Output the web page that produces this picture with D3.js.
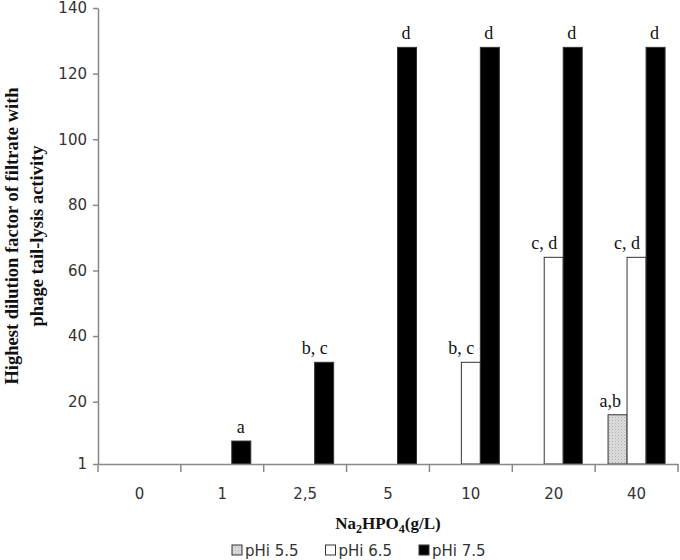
<!DOCTYPE html>
<html>
<head>
<meta charset="utf-8">
<script src="https://cdn.jsdelivr.net/npm/d3@7"></script>
<style>
  body { margin: 0; background: #fff; }
  svg { display: block; }
  .tick text { font-family: "DejaVu Sans", sans-serif; font-size: 15px; fill: #333; }
  .letter { font-family: "Liberation Serif", serif; font-size: 18px; fill: #111; }
  .title { font-family: "Liberation Serif", serif; font-weight: bold; font-size: 17px; fill: #111; }
  .ytitle { font-size: 18.5px; }
  .legend text { font-family: "DejaVu Sans", sans-serif; font-size: 15px; fill: #333; }
</style>
</head>
<body>
<svg width="680" height="560"></svg>
<script>
// categories (Na2HPO4 g/L)
var categories = ["0", "1", "2,5", "5", "10", "20", "40"];
var seriesNames = ["pHi 5.5", "pHi 6.5", "pHi 7.5"];

// values (null = no bar)
var ph55 = [null, null, null, null, null, null, 16];
var ph65 = [null, null, null, null, 32, 64, 64];
var ph75 = [null, 8, 32, 128, 128, 128, 128];

// significance letters above bars
var lab55 = ["", "", "", "", "", "", "a,b"];
var lab65 = ["", "", "", "", "b, c", "c, d", "c, d"];
var lab75 = ["", "a", "b, c", "d", "d", "d", "d"];

var yTicks = [1, 20, 40, 60, 80, 100, 120, 140];

var fills = ["url(#dots)", "#ffffff", "#000000"];

var svg = d3.select("svg");

var defs = svg.append("defs");
var pat = defs.append("pattern")
  .attr("id", "dots")
  .attr("width", 3).attr("height", 3)
  .attr("patternUnits", "userSpaceOnUse");
pat.append("rect").attr("width", 3).attr("height", 3).attr("fill", "#dcdcdc");
pat.append("rect").attr("x", 0).attr("y", 0).attr("width", 1).attr("height", 1).attr("fill", "#b0b0b0");
pat.append("rect").attr("x", 1.5).attr("y", 1.5).attr("width", 1).attr("height", 1).attr("fill", "#c4c4c4");

var xScale = d3.scaleBand().domain(categories).range([98, 678]);
var xInner = d3.scaleBand().domain(seriesNames).range([0, xScale.bandwidth()])
  .paddingInner(0).paddingOuter(0.68);
var yScale = d3.scaleLinear().domain([1, 140]).range([464, 8]);

var rows = [];
var allVals = [ph55, ph65, ph75];
var allLabs = [lab55, lab65, lab75];
categories.forEach(function(c, i) {
  seriesNames.forEach(function(s, j) {
    if (allVals[j][i] != null) {
      rows.push({cat: c, series: s, idx: j, value: allVals[j][i], label: allLabs[j][i]});
    }
  });
});

// bars
var g = svg.append("g");
g.selectAll("rect.bar")
  .data(rows)
  .enter()
  .append("rect")
  .attr("class", "bar")
  .attr("x", function(d) { return xScale(d.cat) + xInner(d.series); })
  .attr("y", function(d) { return yScale(d.value); })
  .attr("width", xInner.bandwidth())
  .attr("height", function(d) { return yScale(1) - yScale(d.value); })
  .attr("fill", function(d) { return fills[d.idx]; })
  .attr("stroke", "#333")
  .attr("stroke-width", 1);

g.selectAll("text.letter")
  .data(rows)
  .enter()
  .append("text")
  .attr("class", "letter")
  .attr("text-anchor", "end")
  .attr("x", function(d) { return xScale(d.cat) + xInner(d.series) + xInner.bandwidth() - 6; })
  .attr("y", function(d) { return yScale(d.value) - 8; })
  .text(function(d) { return d.label; });

// y axis
var yAxis = svg.append("g")
  .attr("transform", "translate(98,0)")
  .call(d3.axisLeft(yScale).tickValues(yTicks).tickSize(5).tickPadding(6).tickSizeOuter(0));
yAxis.selectAll("line, path").attr("stroke", "#888").attr("stroke-width", 1.5);

// x axis
var xAxis = svg.append("g")
  .attr("transform", "translate(0,464)")
  .call(d3.axisBottom(xScale).tickSize(0).tickPadding(24).tickSizeOuter(0));
xAxis.selectAll("path").attr("stroke", "#888").attr("stroke-width", 1.5);
xAxis.selectAll(".tick line").remove();
xAxis.selectAll(".sep")
  .data(categories.concat(["end"]))
  .enter()
  .append("line")
  .attr("class", "sep")
  .attr("x1", function(d, i) { return i < categories.length ? xScale(d) : xScale.range()[1]; })
  .attr("x2", function(d, i) { return i < categories.length ? xScale(d) : xScale.range()[1]; })
  .attr("y1", 0).attr("y2", 8)
  .attr("stroke", "#888").attr("stroke-width", 1.5);

// axis titles
var xt = svg.append("text")
  .attr("class", "title")
  .attr("x", 388).attr("y", 529)
  .attr("text-anchor", "middle");
xt.append("tspan").text("Na");
xt.append("tspan").attr("font-size", "12px").attr("dy", 4).text("2");
xt.append("tspan").attr("dy", -4).text("HPO");
xt.append("tspan").attr("font-size", "12px").attr("dy", 4).text("4");
xt.append("tspan").attr("dy", -4).text("(g/L)");

var yt = svg.append("text")
  .attr("class", "title ytitle")
  .attr("transform", "translate(0,236) rotate(-90)")
  .attr("text-anchor", "middle");
yt.append("tspan").attr("x", 0).attr("y", 18).text("Highest dilution factor of filtrate with");
yt.append("tspan").attr("x", 0).attr("y", 43).text("phage tail-lysis activity");

// legend
var legend = svg.append("g").attr("class", "legend").attr("transform", "translate(232,550)");
var items = legend.selectAll("g")
  .data(seriesNames)
  .enter()
  .append("g")
  .attr("transform", function(d, i) { return "translate(" + (i * 93.5) + ",0)"; });
items.append("rect")
  .attr("x", 0).attr("y", -5)
  .attr("width", 10).attr("height", 10)
  .attr("fill", function(d, i) { return fills[i]; })
  .attr("stroke", "#333");
items.append("text")
  .attr("x", 13).attr("y", 5.5)
  .text(function(d) { return d; });
</script>
</body>
</html>
